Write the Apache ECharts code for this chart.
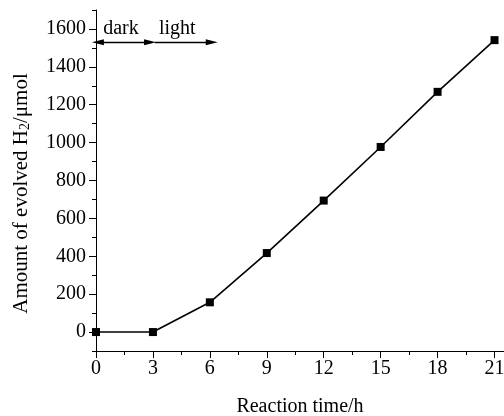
<!DOCTYPE html>
<html>
<head>
<meta charset="utf-8">
<script src="https://cdn.jsdelivr.net/npm/echarts@6/dist/echarts.min.js"></script>
<style>
  html, body { margin: 0; padding: 0; background: #fff; }
  #chart { width: 504px; height: 416px; }
</style>
</head>
<body>
<div id="chart"></div>
<script>
// Hydrogen evolution over time
const reactionTime = [0, 3, 6, 9, 12, 15, 18, 21];           // h
const evolvedH2 = [0, 0, 157, 417, 694, 977, 1268, 1541];    // μmol

// Axis tick labels
const xTickLabels = [0, 3, 6, 9, 12, 15, 18, 21];
const xMinorTicks = [1.5, 4.5, 7.5, 10.5, 13.5, 16.5, 19.5];
const yTickLabels = [0, 200, 400, 600, 800, 1000, 1200, 1400, 1600];
const yMinorTicks = [-100, 100, 300, 500, 700, 900, 1100, 1300, 1500, 1700];

// Dark / light period markers (x range in h, y level in μmol)
const darkSpan = [0.1, 2.85];
const lightSpan = [3.1, 6.1];
const periodLevel = 1530;

const FONT = 'Liberation Serif';
const black = '#000';

const chart = echarts.init(document.getElementById('chart'), null, { renderer: 'canvas' });

const axisText = { color: black, fontFamily: FONT, fontSize: 20 };
const plain = v => String(v);

chart.setOption({
  animation: false,
  backgroundColor: '#fff',
  grid: { left: 96, right: 0, top: 10, bottom: 65, containLabel: false, outerBoundsMode: 'none' },
  xAxis: [
    {
      type: 'value', min: 0, max: 21.5, interval: 1.5,
      position: 'bottom',
      name: 'Reaction time/h', nameLocation: 'middle', nameGap: 46,
      nameTextStyle: axisText,
      axisLine: { show: true, onZero: false, lineStyle: { color: black, width: 1 } },
      axisTick: { show: true, length: 7, lineStyle: { color: black }, customValues: xTickLabels },
      axisLabel: { ...axisText, margin: 8, customValues: xTickLabels, formatter: plain },
      splitLine: { show: false }
    },
    {
      type: 'value', min: 0, max: 21.5, interval: 1.5,
      position: 'bottom',
      axisLine: { show: false, onZero: false },
      axisTick: { show: true, length: 4, lineStyle: { color: black }, customValues: xMinorTicks },
      axisLabel: { show: false },
      splitLine: { show: false }
    }
  ],
  yAxis: [
    {
      type: 'value', min: -100, max: 1700, interval: 100,
      position: 'left',
      name: 'Amount of evolved H{sub|2}/μmol',
      nameLocation: 'middle', nameGap: 64,
      nameTextStyle: {
        ...axisText,
        fontSize: 21,
        padding: [0, 26, 0, 0],
        rich: {
          sub: { fontFamily: FONT, fontSize: 14, color: black, verticalAlign: 'bottom', padding: [8, 0, 0, 0] }
        }
      },
      axisLine: { show: true, onZero: false, lineStyle: { color: black, width: 1 } },
      axisTick: { show: true, length: 7, lineStyle: { color: black }, customValues: yTickLabels },
      axisLabel: { ...axisText, margin: 10, customValues: yTickLabels, formatter: plain },
      splitLine: { show: false }
    },
    {
      type: 'value', min: -100, max: 1700, interval: 100,
      position: 'left',
      axisLine: { show: false, onZero: false },
      axisTick: { show: true, length: 4, lineStyle: { color: black }, customValues: yMinorTicks },
      axisLabel: { show: false },
      splitLine: { show: false }
    }
  ],
  series: [
    {
      type: 'line',
      xAxisIndex: 0, yAxisIndex: 0,
      data: reactionTime.map((t, i) => [t, evolvedH2[i]]),
      symbol: 'rect', symbolSize: 8,
      itemStyle: { color: black },
      lineStyle: { color: black, width: 1.6 },
      clip: false,
      markLine: {
        silent: true,
        animation: false,
        lineStyle: { color: black, width: 1.4, type: 'solid' },
        label: {
          show: true, position: 'middle', distance: 3,
          color: black, fontFamily: FONT, fontSize: 20
        },
        data: [
          [
            { coord: [darkSpan[0], periodLevel], symbol: 'triangle', symbolSize: [6, 12], name: 'dark',
              label: { formatter: 'dark', offset: [-3, 0] } },
            { coord: [darkSpan[1], periodLevel], symbol: 'triangle', symbolSize: [6, 12] }
          ],
          [
            { coord: [lightSpan[0], periodLevel], symbol: 'none', name: 'light',
              label: { formatter: 'light', offset: [-6, 0] } },
            { coord: [lightSpan[1], periodLevel], symbol: 'triangle', symbolSize: [6, 12] }
          ]
        ]
      }
    }
  ]
});
</script>
</body>
</html>
